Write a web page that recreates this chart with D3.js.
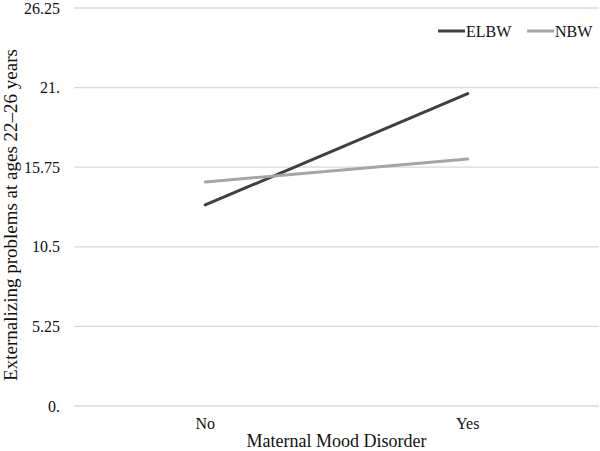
<!DOCTYPE html>
<html><head><meta charset="utf-8">
<script src="https://cdn.jsdelivr.net/npm/d3@7"></script>
<style>body{margin:0;background:#fff}svg{display:block}text{font-family:"Liberation Serif","Times New Roman",serif;fill:#111}</style>
</head><body>
<svg id="c" width="600" height="451"></svg>
<script>
const categories = ["No", "Yes"];
const seriesNames = ["ELBW", "NBW"];
const elbwValues = [13.26, 20.6];
const nbwValues = [14.77, 16.29];
const yTicks = [0, 5.25, 10.5, 15.75, 21, 26.25];
const yTickLabels = ["0.", "5.25", "10.5", "15.75", "21.", "26.25"];
const colors = ["#404040", "#a5a5a5"];

const svg = d3.select("#c");
const mL = 74, mR = 599, mT = 8, mB = 406;
const x = d3.scaleBand().domain(categories).range([mL, mR]);
const y = d3.scaleLinear().domain([0, 26.25]).range([mB, mT]);

// gridlines
svg.append("g").selectAll("line").data(yTicks).join("line")
  .attr("x1", mL).attr("x2", mR)
  .attr("y1", d => y(d)).attr("y2", d => y(d))
  .attr("stroke", "#d9d9d9").attr("stroke-width", 1.3);

// y tick labels
svg.append("g").selectAll("text").data(yTicks).join("text")
  .attr("x", 60).attr("y", d => y(d)).attr("dy", "0.35em")
  .attr("text-anchor", "end").attr("font-size", 16)
  .text((d, i) => yTickLabels[i]);

// x labels
svg.append("g").selectAll("text").data(categories).join("text")
  .attr("x", d => x(d) + x.bandwidth() / 2).attr("y", 429)
  .attr("text-anchor", "middle").attr("font-size", 16).text(d => d);

// axis titles
svg.append("text").attr("x", (mL + mR) / 2).attr("y", 447)
  .attr("text-anchor", "middle").attr("font-size", 18).text("Maternal Mood Disorder");
svg.append("text").attr("transform", `translate(16.5,215) rotate(-90)`)
  .attr("text-anchor", "middle").attr("font-size", 19)
  .text("Externalizing problems at ages 22\u201326 years");

// lines
const data = [elbwValues, nbwValues];
const line = d3.line().x((d, i) => x(categories[i]) + x.bandwidth() / 2).y(d => y(d));
svg.append("g").selectAll("path").data(data).join("path")
  .attr("d", line).attr("fill", "none")
  .attr("stroke", (d, i) => colors[i]).attr("stroke-width", 3).attr("stroke-linecap", "round");

// legend
const lg = svg.append("g");
const legX = [438, 527];
seriesNames.forEach((n, i) => {
  lg.append("line").attr("x1", legX[i]).attr("x2", legX[i] + 27).attr("y1", 31).attr("y2", 31)
    .attr("stroke", colors[i]).attr("stroke-width", 3);
  lg.append("text").attr("x", legX[i] + 28).attr("y", 31).attr("dy", "0.35em")
    .attr("font-size", 16).text(n);
});
</script>
</body></html>
